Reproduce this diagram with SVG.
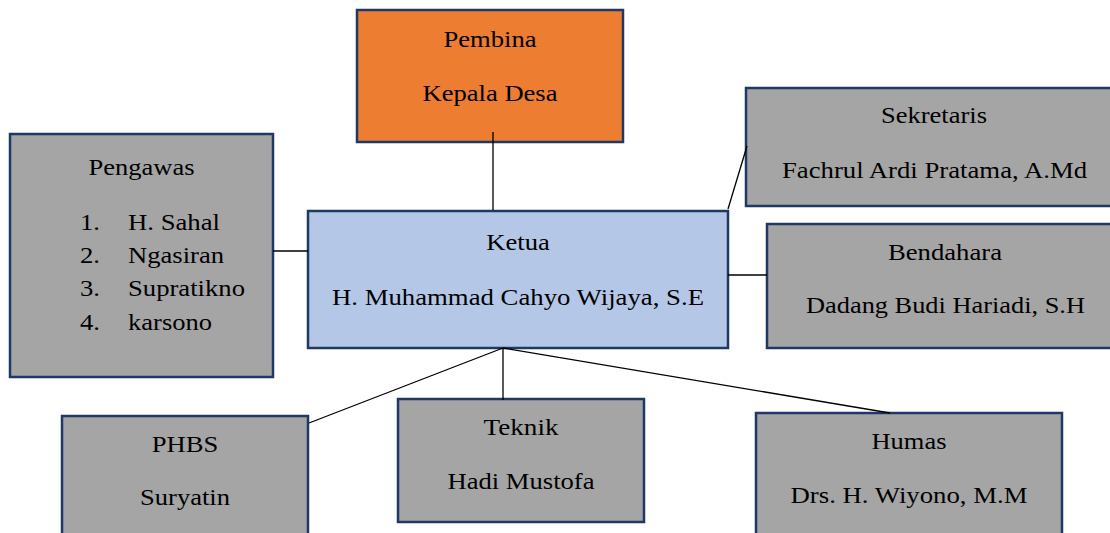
<svg xmlns="http://www.w3.org/2000/svg" width="1110" height="533" viewBox="0 0 1110 533">
<style>
.box{stroke:#1F3864;stroke-width:2.5}
.grey{fill:#A5A5A5}
.blue{fill:#B4C7E7}
.orange{fill:#ED7D31}
text{font-family:"Liberation Serif","Times New Roman",serif;font-size:24px;fill:#000}
.c{text-anchor:middle}
.conn line{stroke:#000;stroke-width:1.3}
</style>
<rect width="1110" height="533" fill="#fff"/>
<g id="pembina">
<rect class="box orange" x="357" y="10" width="266" height="132"/>
<text class="c" x="490" y="47" textLength="93" lengthAdjust="spacingAndGlyphs">Pembina</text>
<text class="c" x="490" y="101" textLength="135" lengthAdjust="spacingAndGlyphs">Kepala Desa</text>
</g>
<g id="pengawas">
<rect class="box grey" x="10" y="134" width="263" height="243"/>
<text class="c" x="141.5" y="175" textLength="106" lengthAdjust="spacingAndGlyphs">Pengawas</text>
<text x="80" y="230" textLength="20" lengthAdjust="spacingAndGlyphs">1.</text><text x="128" y="230" textLength="92" lengthAdjust="spacingAndGlyphs">H. Sahal</text>
<text x="80" y="263" textLength="20" lengthAdjust="spacingAndGlyphs">2.</text><text x="128" y="263" textLength="96" lengthAdjust="spacingAndGlyphs">Ngasiran</text>
<text x="80" y="296" textLength="20" lengthAdjust="spacingAndGlyphs">3.</text><text x="128" y="296" textLength="117" lengthAdjust="spacingAndGlyphs">Supratikno</text>
<text x="80" y="330" textLength="20" lengthAdjust="spacingAndGlyphs">4.</text><text x="128" y="330" textLength="84" lengthAdjust="spacingAndGlyphs">karsono</text>
</g>
<g id="ketua">
<rect class="box blue" x="308" y="211" width="420" height="137"/>
<text class="c" x="518" y="250" textLength="63.5" lengthAdjust="spacingAndGlyphs">Ketua</text>
<text class="c" x="518" y="305" textLength="372" lengthAdjust="spacingAndGlyphs">H. Muhammad Cahyo Wijaya, S.E</text>
</g>
<g id="sekretaris">
<rect class="box grey" x="746" y="88" width="370" height="118"/>
<text class="c" x="934" y="123" textLength="106" lengthAdjust="spacingAndGlyphs">Sekretaris</text>
<text class="c" x="934.5" y="178" textLength="305" lengthAdjust="spacingAndGlyphs">Fachrul Ardi Pratama, A.Md</text>
</g>
<g id="bendahara">
<rect class="box grey" x="767" y="224" width="350" height="124"/>
<text class="c" x="945" y="260" textLength="114" lengthAdjust="spacingAndGlyphs">Bendahara</text>
<text class="c" x="945.5" y="313" textLength="279" lengthAdjust="spacingAndGlyphs">Dadang Budi Hariadi, S.H</text>
</g>
<g id="phbs">
<rect class="box grey" x="62" y="416" width="246" height="130"/>
<text class="c" x="185" y="452" textLength="66.5" lengthAdjust="spacingAndGlyphs">PHBS</text>
<text class="c" x="185" y="505" textLength="90" lengthAdjust="spacingAndGlyphs">Suryatin</text>
</g>
<g id="teknik">
<rect class="box grey" x="398" y="399" width="246" height="123"/>
<text class="c" x="521" y="435" textLength="75" lengthAdjust="spacingAndGlyphs">Teknik</text>
<text class="c" x="521" y="489" textLength="147" lengthAdjust="spacingAndGlyphs">Hadi Mustofa</text>
</g>
<g id="humas">
<rect class="box grey" x="756" y="413" width="306" height="133"/>
<text class="c" x="909" y="449" textLength="75" lengthAdjust="spacingAndGlyphs">Humas</text>
<text class="c" x="909" y="503" textLength="237" lengthAdjust="spacingAndGlyphs">Drs. H. Wiyono, M.M</text>
</g>
<g id="connectors" class="conn">
<line x1="493" y1="132" x2="493" y2="210"/>
<line x1="273" y1="251" x2="308" y2="251"/>
<line x1="728" y1="209" x2="747" y2="146"/>
<line x1="728" y1="275" x2="767" y2="275"/>
<line x1="503" y1="348" x2="309" y2="423"/>
<line x1="503" y1="348" x2="503" y2="400"/>
<line x1="503" y1="348" x2="890" y2="413"/>
</g>
</svg>
